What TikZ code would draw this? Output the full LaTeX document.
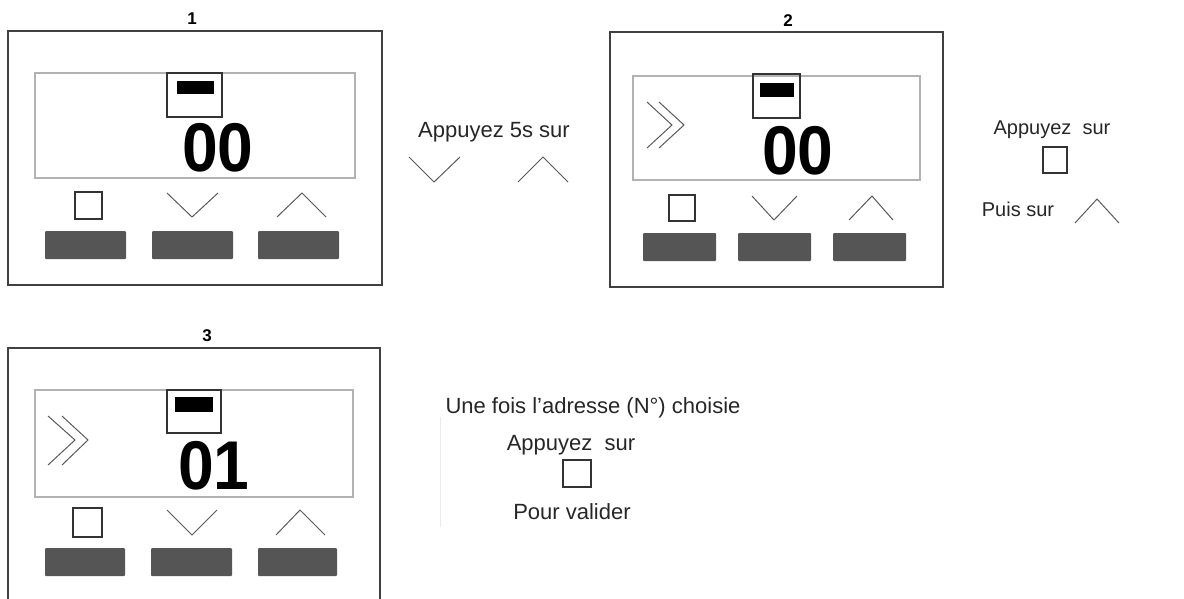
\documentclass[tikz,border=0pt]{standalone}
\usepackage{fontspec}
\setmainfont{Liberation Sans}
\definecolor{keygray}{HTML}{555555}

\begin{document}
\begin{tikzpicture}[x=1pt,y=-1pt,
  frame/.style={draw=black!75,line width=1.6pt},
  screen/.style={draw=black!30,line width=1.2pt},
  iconbox/.style={draw=black!80,line width=1.3pt},
  key/.style={fill=keygray,rounded corners=1pt},
  chev/.style={draw=black!65,line width=1pt},
  digits/.style={font=\fontsize{69}{69}\selectfont\bfseries,inner sep=0pt,xscale=0.93},
  title/.style={font=\fontsize{17}{17}\selectfont\bfseries,inner sep=0pt},
  txt/.style={font=\fontsize{20}{20}\selectfont,inner sep=0pt,text=black!85},
  bigtxt/.style={txt,font=\fontsize{22}{22}\selectfont}]
\useasboundingbox (0,0) rectangle (1184,598);

% panel 1
\node[title] (t1) at (192,19) {1};
\draw[frame] (8,31) rectangle (382,285);
\draw[screen] (35,73) rectangle (355,178);
\draw[iconbox] (167,73) rectangle (222,117);
\fill (177,81) rectangle (214,94);
\node[digits] (d1) at (218,148) {00};
\draw[iconbox,line width=1.1pt] (75,192) rectangle (102,219);
\draw[chev] (167,193) -- (192,217) -- (218,193);
\draw[chev] (277,217) -- (302,193) -- (326,217);
\fill[key] (45,231) rectangle (126,259);
\fill[key] (152,231) rectangle (233,259);
\fill[key] (258,231) rectangle (339,259);

% between 1 and 2
\node[bigtxt] (a1) at (494,132) {Appuyez 5s sur};
\draw[chev] (409,157) -- (434,182) -- (460,157);
\draw[chev] (518,182) -- (543,157) -- (568,182);

% panel 2
\node[title] (t2) at (788,21) {2};
\draw[frame] (610,32) rectangle (943,287);
\draw[screen] (633,76) rectangle (920,180);
\draw[iconbox] (753,74) rectangle (800,118);
\fill (760,83) rectangle (794,97);
\node[digits] (d2) at (798,151) {00};
\draw[chev] (647,102) -- (672,125) -- (647,148);
\draw[chev] (659,102) -- (684,125) -- (659,148);
\draw[iconbox,line width=1.1pt] (669,195) rectangle (695,221);
\draw[chev] (752,196) -- (774,220) -- (797,196);
\draw[chev] (849,220) -- (872,196) -- (893,220);
\fill[key] (643,233) rectangle (716,261);
\fill[key] (738,233) rectangle (811,261);
\fill[key] (833,233) rectangle (906,261);

% right of 2
\node[txt] (a2) at (1052,130) {Appuyez\ \ sur};
\draw[iconbox,line width=1.1pt] (1043,147) rectangle (1067,173);
\node[txt] (p2) at (1018,209) {Puis sur};
\draw[chev] (1075,223) -- (1097,199) -- (1119,223);

% panel 3
\node[title] (t3) at (207,336) {3};
\draw[frame] (8,600) -- (8,348) -- (380,348) -- (380,600);
\draw[screen] (35,390) rectangle (353,497);
\draw[iconbox] (167,390) rectangle (221,433);
\fill (175,397) rectangle (213,412);
\node[digits] (d3) at (214,466) {01};
\draw[chev] (48,416) -- (75,440) -- (48,465);
\draw[chev] (62,416) -- (88,440) -- (62,465);
\draw[iconbox,line width=1.1pt] (73,508) rectangle (102,537);
\draw[chev] (167,510) -- (192,535) -- (217,510);
\draw[chev] (276,535) -- (300,510) -- (325,535);
\fill[key] (45,548) rectangle (125,576);
\fill[key] (151,548) rectangle (232,576);
\fill[key] (258,548) rectangle (337,576);

% right of 3
\draw[black!8,line width=0.8pt] (440,417) -- (440,527);
\node[bigtxt] (u3) at (593,408) {Une fois l'adresse (N°) choisie};
\node[bigtxt] (a3) at (571,445) {Appuyez\ \ sur};
\draw[iconbox,line width=1.1pt] (563,460) rectangle (591,487);
\node[bigtxt] (p3) at (572,512) {Pour valider};
\end{tikzpicture}
\end{document}
